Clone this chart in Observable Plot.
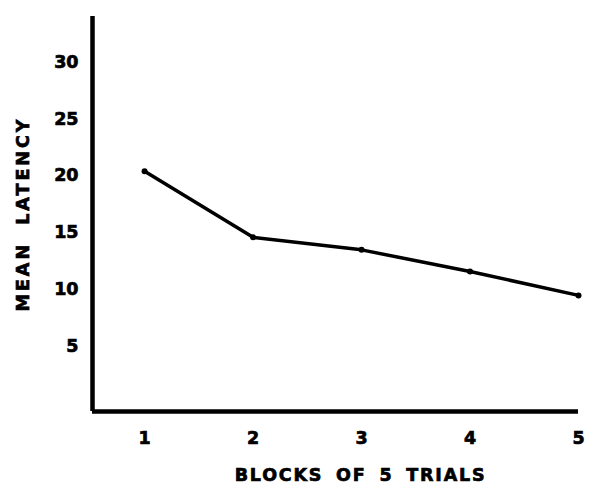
<!DOCTYPE html>
<html><head><meta charset="utf-8">
<script src="https://cdn.jsdelivr.net/npm/d3@7"></script>
<script src="https://cdn.jsdelivr.net/npm/@observablehq/plot@0.6"></script>
<style>
body{margin:0;background:#fff;}
svg text{font-family:"DejaVu Sans",sans-serif;font-weight:bold;font-size:17.5px;stroke:#000;stroke-width:0.7px;}
</style></head>
<body><div id="chart"></div>
<script>
const blocks = [1, 2, 3, 4, 5];
const latency = [20.4, 14.6, 13.5, 11.6, 9.5];
const yTicks = [5, 10, 15, 20, 25, 30];
const xTitle = "BLOCKS OF 5 TRIALS";
const yTitle = "MEAN LATENCY";

const data = blocks.map((b, i) => ({block: b, latency: latency[i]}));

const chart = Plot.plot({
  width: 591,
  height: 487,
  marginLeft: 92,
  marginRight: 13,
  marginTop: 16,
  marginBottom: 76,
  style: {color: "#000", background: "#fff"},
  x: {domain: [0.52, 5]},
  y: {domain: [-0.7, 34]},
  marks: [
    Plot.axisY({ticks: yTicks, tickSize: 0, tickPadding: 14, tickFormat: d => String(d), label: yTitle, labelAnchor: "center", labelArrow: "none", labelOffset: 76}),
    Plot.axisX({ticks: blocks, tickSize: 0, tickPadding: 20, tickFormat: d => String(d), label: null}),
    Plot.ruleX([0.52], {stroke: "#000", strokeWidth: 4.5}),
    Plot.ruleY([-0.7], {stroke: "#000", strokeWidth: 4.5}),
    Plot.line(data, {x: "block", y: "latency", stroke: "#000", strokeWidth: 3.5}),
    Plot.dot(data, {x: "block", y: "latency", r: 3, fill: "#000"}),
    Plot.text([xTitle], {text: d => d, frameAnchor: "bottom", dx: 25, dy: 69, fill: "#000"})
  ]
});
document.getElementById("chart").append(chart);
d3.select(chart).selectAll("[aria-label='y-axis label'] text")
  .style("letter-spacing", "3px").style("word-spacing", "8px");
d3.select(chart).selectAll("[aria-label='text'] text")
  .style("letter-spacing", "1.8px").style("word-spacing", "5px");
</script>
</body></html>
